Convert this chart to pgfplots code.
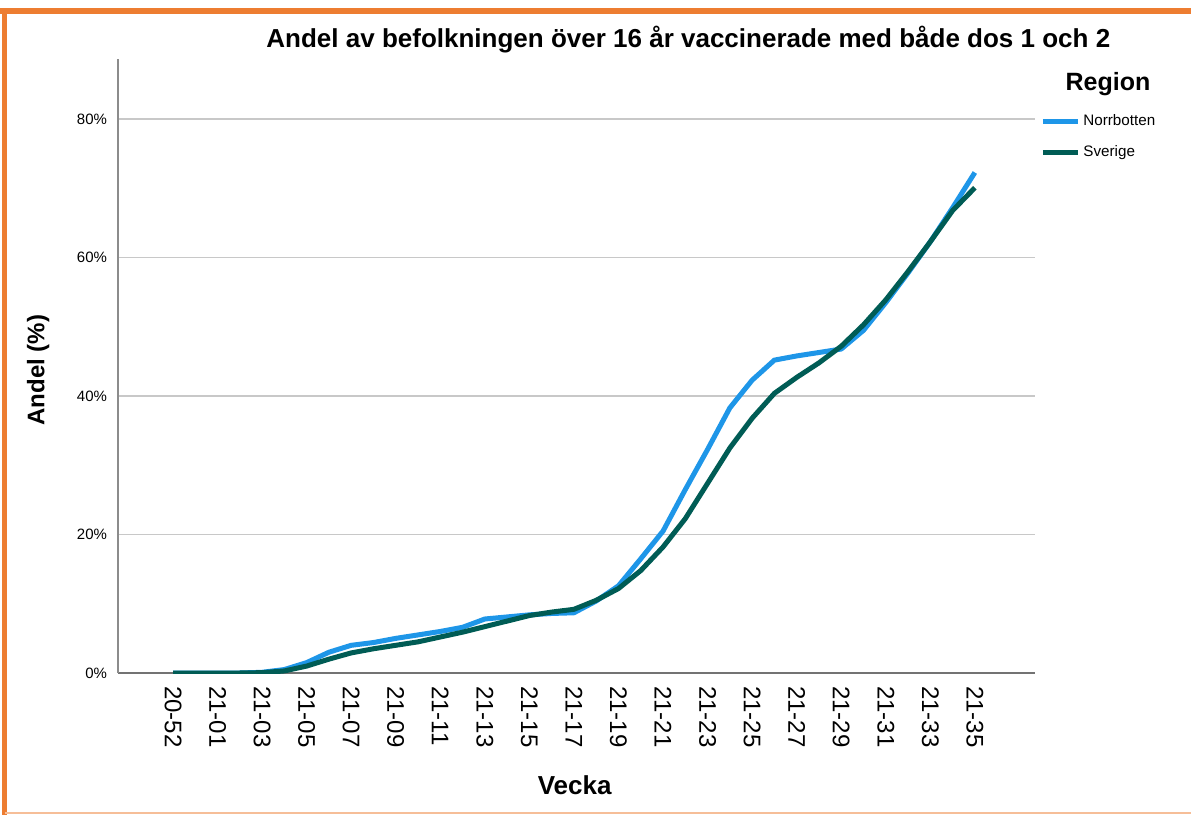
\documentclass[border=0pt]{standalone}
\usepackage{fontspec}
\setmainfont{Liberation Sans}
\usepackage{pgfplots}
\usepackage{pgfplotstable}
\pgfplotsset{compat=1.18}

\definecolor{norrblue}{HTML}{1E96E8}
\definecolor{sverigegreen}{HTML}{005C55}
\definecolor{frameorange}{HTML}{ED7D31}
\definecolor{gridgray}{HTML}{C8C8C8}
\definecolor{axisgray}{HTML}{8C8C8C}

% week index: 0 = 20-52, 1 = 20-53, 2 = 21-01, ..., 36 = 21-35
\pgfplotstableread{
idx norrbotten sverige
0  0.0  0.0
1  0.0  0.0
2  0.0  0.0
3  0.0  0.0
4  0.1  0.05
5  0.5  0.3
6  1.5  1.0
7  3.0  2.0
8  4.0  2.9
9  4.4  3.5
10 5.0  4.0
11 5.5  4.5
12 6.0  5.2
13 6.6  5.9
14 7.8  6.7
15 8.1  7.5
16 8.4  8.3
17 8.6  8.8
18 8.7  9.2
19 10.4 10.5
20 12.6 12.2
21 16.5 14.8
22 20.5 18.2
23 26.5 22.3
24 32.3 27.4
25 38.3 32.5
26 42.3 36.8
27 45.2 40.4
28 45.8 42.7
29 46.3 44.8
30 46.8 47.2
31 49.5 50.3
32 53.5 53.9
33 57.8 58.0
34 62.3 62.3
35 67.2 66.8
36 72.3 70.1
}\vaccdata

\begin{document}
\begin{tikzpicture}
\begin{axis}[
    name=ax,
    scale only axis,
    width=458.5pt, height=307pt,
    xmin=-2.47, xmax=38.7,
    ymin=0, ymax=88.7,
    axis x line=bottom, axis y line=left,
    axis line style={-},
    x axis line style={draw=black!55, line width=0.9pt},
    y axis line style={draw=axisgray, line width=0.9pt},
    major tick length=0pt,
    ymajorgrids,
    major grid style={gridgray, line width=0.8pt},
    ytick={0,20,40,60,80},
    yticklabels={0\%,20\%,40\%,60\%,80\%},
    y tick label style={font=\fontsize{7.5}{9}\selectfont, xshift=-2pt},
    xtick={0,2,...,36},
    xticklabels={20-52,21-01,21-03,21-05,21-07,21-09,21-11,21-13,21-15,21-17,21-19,21-21,21-23,21-25,21-27,21-29,21-31,21-33,21-35},
    x tick label style={rotate=-90, anchor=west, font=\fontsize{12}{13}\selectfont, xshift=3pt},
    title={Andel av befolkningen över 16 år vaccinerade med både dos 1 och 2},
    title style={at={(axis description cs:0.622,1.012)}, anchor=center, font=\bfseries\fontsize{13}{15}\selectfont},
    xlabel={Vecka},
    xlabel style={at={(axis description cs:0.498,-0.182)}, anchor=center, font=\bfseries\fontsize{13}{15}\selectfont},
    ylabel={Andel (\%)},
    ylabel style={at={(axis description cs:-0.087,0.493)}, anchor=center, rotate=0, font=\bfseries\fontsize{12}{14}\selectfont},
    legend style={at={(1.0055,0.915)}, anchor=north west, draw=none, fill=none,
        font=\fontsize{7.6}{9}\selectfont, row sep=5.5pt, inner sep=0pt,
        nodes={inner sep=1.5pt}},
    legend cell align=left,
    legend image code/.code={\draw[#1] (0pt,0pt) -- (17.5pt,0pt);},
]
\addplot[norrblue, line width=2.5pt, line join=round] table[x=idx, y=norrbotten] {\vaccdata};
\addlegendentry{Norrbotten}
\addplot[sverigegreen, line width=2.5pt, line join=round] table[x=idx, y=sverige] {\vaccdata};
\addlegendentry{Sverige}
\end{axis}

% page frame in reference pixels (0.5pt each), origin at the axis corner
\begin{scope}[shift={(ax.south west)}, x=0.5pt, y=0.5pt]
\path[use as bounding box] (-118,-142) rectangle (1073,673);
\draw[frameorange, line width=3pt] (-118,662) -- (1073,662);
\draw[frameorange, line width=2.5pt] (-113,-142) -- (-113,664.5);
\draw[frameorange!50, line width=1pt] (-113,-140.5) -- (1073,-140.5);
\node[font=\bfseries\fontsize{12.5}{14}\selectfont] at (990,589) {Region};
\end{scope}
\end{tikzpicture}
\end{document}
